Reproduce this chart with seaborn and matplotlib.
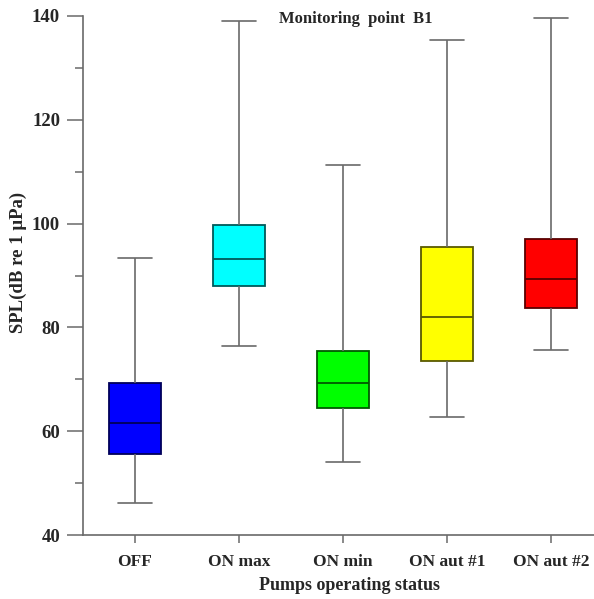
import numpy as np
import pandas as pd
import seaborn as sns
import matplotlib.pyplot as plt
from matplotlib.ticker import MultipleLocator
from matplotlib.colors import to_rgb

# five-number summaries (dB re 1 uPa)
statuses = ["OFF", "ON max", "ON min", "ON aut #1", "ON aut #2"]
spl_min = [46.2, 76.4, 54.1, 62.8, 75.6]
spl_q1 = [55.6, 88.0, 64.4, 73.5, 83.7]
spl_med = [61.6, 93.1, 69.2, 82.1, 89.3]
spl_q3 = [69.3, 99.7, 75.5, 95.5, 97.0]
spl_max = [93.4, 139.0, 111.3, 135.4, 139.6]
box_colors = ["#0000ff", "#00ffff", "#00ff00", "#ffff00", "#ff0000"]

# five points per group -> percentiles 0/25/50/75/100 hit the summary exactly
rows = []
for i, s in enumerate(statuses):
    for v in (spl_min[i], spl_q1[i], spl_med[i], spl_q3[i], spl_max[i]):
        rows.append({"status": s, "spl": v})
df = pd.DataFrame(rows)

sns.set_style("ticks")
plt.rcParams["font.family"] = ["Liberation Serif", "DejaVu Serif"]
plt.rcParams["font.weight"] = "bold"

fig = plt.figure(figsize=(5.94, 5.99), dpi=100)
ax = fig.add_axes([0.1397, 0.1068, 0.8603, 0.8665])

grey = "#6a6a6a"
for s, c in zip(statuses, box_colors):
    dark = tuple(0.35 * x for x in to_rgb(c))
    sns.boxplot(data=df[df["status"] == s], x="status", y="spl", order=statuses,
                whis=(0, 100), width=0.5, color=c, saturation=1,
                linecolor=dark, linewidth=1.3, showfliers=False,
                whiskerprops=dict(color=grey, linewidth=1.2),
                capprops=dict(color=grey, linewidth=1.2), ax=ax)

# widen the caps a little, like the reference
for ln in ax.lines:
    xd = np.asarray(ln.get_xdata(), dtype=float)
    yd = np.asarray(ln.get_ydata(), dtype=float)
    if len(xd) == 2 and yd[0] == yd[1] and ln.get_color() == grey:
        mid = xd.mean()
        ln.set_xdata(mid + (xd - mid) * 1.3)

ax.set_ylim(40, 140)
ax.set_xlim(-0.5, 4.41)
ax.yaxis.set_major_locator(MultipleLocator(20))
ax.yaxis.set_minor_locator(MultipleLocator(10))
ax.tick_params(axis="y", which="major", length=11.5, width=1.1, color=grey,
               labelsize=13.5, pad=5)
ax.tick_params(axis="y", which="minor", length=5.8, width=1.1, color=grey)
ax.tick_params(axis="x", length=6, width=1.1, color=grey, labelsize=12.5, pad=8)

sns.despine(ax=ax)
for side in ("left", "bottom"):
    ax.spines[side].set_color(grey)
    ax.spines[side].set_linewidth(1.2)

ax.set_xlabel("Pumps operating status", fontsize=13, fontweight="bold")
ax.set_ylabel("SPL(dB re 1 μPa)", fontsize=13.5, fontweight="bold")
ax.xaxis.set_label_coords(0.522, -0.08)
ax.yaxis.set_label_coords(-0.11, 0.526)
ax.text(0.534, 0.995, "Monitoring  point  B1", transform=ax.transAxes,
        ha="center", va="center", fontsize=12, fontweight="bold")

fig.savefig("out.png", dpi=100)
